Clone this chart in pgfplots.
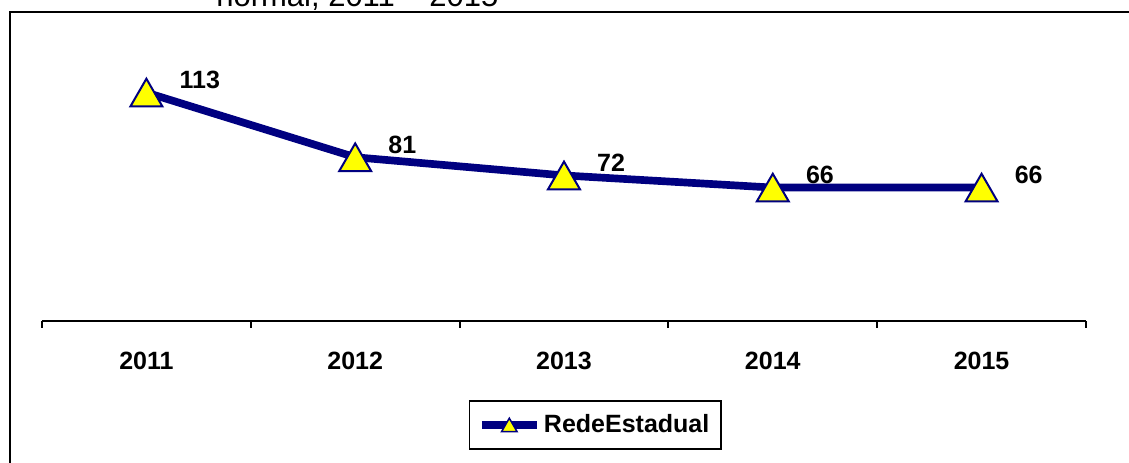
\documentclass[border=0pt]{standalone}
\usepackage{pgfplots}
\pgfplotsset{compat=1.18}
\usepackage{fontspec}
\setmainfont{Liberation Sans}
\definecolor{navyline}{RGB}{0,0,128}
\definecolor{markyellow}{RGB}{255,255,0}
\begin{document}
\begin{tikzpicture}[x=0.6pt,y=0.6pt]
\useasboundingbox (0,0) rectangle (1129,463);
\begin{scope}
\clip (0,0) rectangle (1129,463);
\draw[line width=1.2pt] (9.5,-20) -- (9.5,451) -- (1160,451);
\node[anchor=base west, inner sep=0pt, font=\fontsize{18.6}{22}\selectfont] at (216,456.5) {normal, 2011 -- 2015};
\end{scope}
\begin{axis}[
  at={(25.2pt,85.2pt)}, anchor=south west,
  scale only axis, width=626.4pt, height=169.8pt,
  xmin=-0.5, xmax=4.5, ymin=0, ymax=140,
  clip=false,
  axis x line*=bottom, axis y line=none,
  axis line style={black, line width=1.2pt},
  xtick={0,1,2,3,4},
  xticklabels={2011,2012,2013,2014,2015},
  major tick length=0pt,
  minor xtick={-0.5,0.5,1.5,2.5,3.5,4.5},
  minor tick length=4.2pt,
  tick align=outside,
  minor tick style={black, line width=1.2pt},
  ytick=\empty,
  xticklabel style={font=\bfseries\fontsize{15}{18}\selectfont, inner sep=0pt, anchor=north, yshift=-18.6pt},
  legend style={at={(0.530,-0.3675)}, anchor=center, draw=black, line width=0.9pt,
    font=\bfseries\fontsize{15}{18}\selectfont, inner xsep=5pt, inner ysep=6.2pt},
  legend cell align=left,
  legend image code/.code={\draw[mark repeat=2,mark phase=2,#1, mark size=5.4pt,
      mark options={fill=markyellow, draw=navyline, line width=0.9pt, solid, yshift=-1.35pt}]
      plot coordinates {(0pt,0pt) (16.5pt,0pt) (33pt,0pt)};},
  nodes near coords={\pgfmathprintnumber[assume math mode=true]{\pgfplotspointmeta}},
  every node near coord/.append style={anchor=west, xshift=16pt, yshift=10.2pt,
    font=\bfseries\fontsize{15}{18}\selectfont, text=black},
]
\addplot[color=navyline, line width=4.6pt, mark=triangle*, mark size=11.1pt,
  mark options={fill=markyellow, draw=navyline, line width=1.2pt, solid, yshift=-2.8pt}]
  coordinates {(0,113) (1,81) (2,72) (3,66) (4,66)};
\addlegendentry{RedeEstadual\hspace{4pt}}
\end{axis}
\end{tikzpicture}
\end{document}
